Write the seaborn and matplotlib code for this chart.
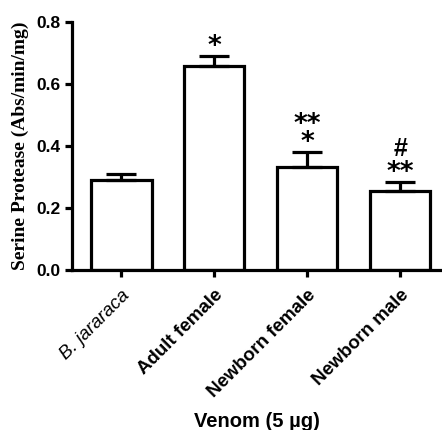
import numpy as np
import pandas as pd
import matplotlib
matplotlib.use("Agg")
import matplotlib.pyplot as plt
import seaborn as sns

# values
venoms = ["B. jararaca", "Adult female", "Newborn female", "Newborn male"]
means = [0.290, 0.658, 0.331, 0.255]
sems = [0.019, 0.032, 0.050, 0.030]
# significance marks, listed bottom line first
marks = [[], ["*"], ["*", "**"], ["**", "#"]]

sns.set_style("ticks", {"text.color": "black", "xtick.color": "black",
                        "ytick.color": "black", "axes.labelcolor": "black",
                        "axes.edgecolor": "black"})
plt.rcParams["font.family"] = ["Liberation Sans", "DejaVu Sans"]

data = pd.DataFrame({"venom": venoms, "activity": means})

fig = plt.figure(figsize=(4.42, 4.30), dpi=100)
ax = fig.add_axes([0.163, 0.372, 0.837, 0.577])

sns.barplot(data=data, x="venom", y="activity", color="white",
            edgecolor="black", linewidth=2.3, width=0.65,
            errorbar=None, ax=ax)

# upper-only error bars (SEM)
xs = np.arange(len(venoms))
ax.errorbar(xs, means, yerr=[np.zeros(len(sems)), sems], fmt="none",
            ecolor="black", elinewidth=2.3, capsize=11, capthick=2.3,
            zorder=1)

# significance marks above the error bars (offsets in pixels -> points)
px = 0.72
for x, m, s, lines in zip(xs, means, sems, marks):
    stars = [t for t in lines if "*" in t]
    others = [t for t in lines if "*" not in t]
    if stars:
        # DejaVu asterisk centre sits ~10 px above its baseline
        ax.annotate("\n".join(stars[::-1]), (x, m + s),
                    xytext=(0, (12 - 10) * px), textcoords="offset points",
                    ha="center", va="baseline", fontsize=19,
                    fontweight="bold", family="DejaVu Sans", linespacing=0.6)
    top = 12 + 16 * (len(stars) - 1) + 22
    for txt in others:
        ax.annotate(txt, (x, m + s), xytext=(0, (top - 8) * px),
                    textcoords="offset points", ha="center",
                    va="baseline", fontsize=18, fontweight="bold")

ax.set_ylim(0, 0.8)
ax.set_xlim(-0.53, 3.45)
ax.set_yticks([0.0, 0.2, 0.4, 0.6, 0.8])
ax.set_yticklabels(["0.0", "0.2", "0.4", "0.6", "0.8"],
                   fontsize=12.5, fontweight="bold")
ax.set_xticks(xs)
ax.set_xticklabels(venoms, rotation=45, ha="right", rotation_mode="anchor",
                   fontsize=13.5, fontweight="bold")
ax.get_xticklabels()[0].set_fontweight("normal")
ax.get_xticklabels()[0].set_fontstyle("italic")

ax.set_xlabel("Venom (5 µg)", fontsize=14.5, fontweight="bold", labelpad=8)
ax.set_ylabel("Serine Protease (Abs/min/mg)", fontsize=14,
              fontweight="bold", family=["Liberation Serif", "DejaVu Serif"],
              labelpad=5)

for side in ["left", "bottom"]:
    ax.spines[side].set_linewidth(2.3)
sns.despine(ax=ax)
ax.tick_params(width=2.3, length=5, direction="out")
ax.tick_params(axis="x", pad=7)

fig.savefig("out.png", dpi=100)
